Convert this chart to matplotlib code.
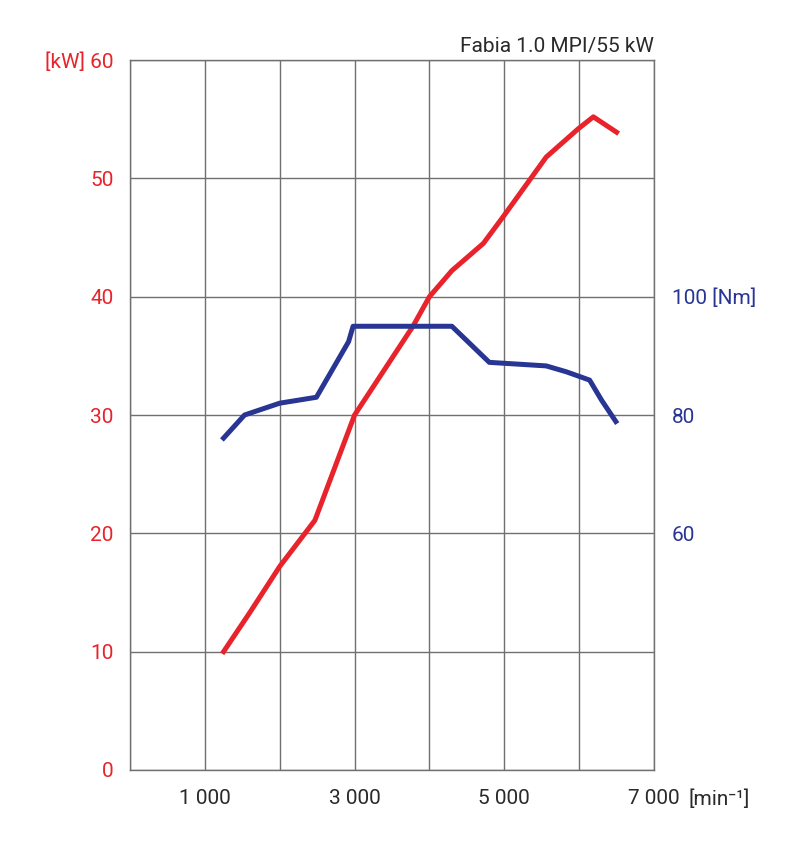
"""
Fabia 1.0 MPI/55 kW - power and torque curves
"""
import matplotlib
matplotlib.use("Agg")
import matplotlib.pyplot as plt

plt.rcParams['font.family'] = ['Roboto', 'DejaVu Sans']

# engine speed [min-1], power [kW]
rpm_power = [1250, 1600, 2000, 2470, 3000, 3250, 3780, 4000, 4300, 4720, 4990, 5560, 5990, 6190, 6500]
power_kw = [10.0, 13.3, 17.2, 21.1, 30.0, 32.4, 37.5, 40.0, 42.2, 44.5, 46.8, 51.8, 54.2, 55.2, 53.9]

# engine speed [min-1], torque [Nm]
rpm_torque = [1250, 1530, 2000, 2490, 2920, 2980, 4300, 4800, 5560, 5830, 6140, 6300, 6490]
torque_nm = [76.1, 80.0, 82.0, 83.0, 92.4, 95.0, 95.0, 88.9, 88.3, 87.3, 85.9, 82.5, 78.9]

kw_ticks = [0, 10, 20, 30, 40, 50, 60]
kw_labels = ['0', '10', '20', '30', '40', '50', '[kW] 60']
nm_ticks = [60, 80, 100]
nm_labels = ['60', '80', '100 [Nm]']
rpm_ticks = [1000, 3000, 5000, 7000]
rpm_labels = ['1 000', '3 000', '5 000', '7 000']

red = '#e8232b'
blue = '#283593'
grey = '#2a2a2a'
grid_c = '#707070'
fs = 15

fig = plt.figure(figsize=(8, 8.48), dpi=100)
ax = fig.add_axes([0.1625, 0.092, 0.655, 0.8372])

ax.set_xlim(0, 7000)
ax.set_ylim(0, 60)
ax.set_xticks(range(0, 7001, 1000), minor=True)
ax.set_yticks(kw_ticks)
ax.set_yticklabels(kw_labels, color=red, fontsize=fs)
ax.set_xticks(rpm_ticks)
ax.set_xticklabels(rpm_labels, color=grey, fontsize=fs)
ax.grid(True, which='both', axis='x', color=grid_c, lw=1)
ax.grid(True, axis='y', color=grid_c, lw=1)
ax.tick_params(which='both', length=0)
ax.tick_params(axis='y', pad=12)
ax.tick_params(axis='x', pad=14)
for s in ax.spines.values():
    s.set_color(grid_c)
    s.set_linewidth(1)

ax.plot(rpm_power, power_kw, color=red, lw=3.6, solid_joinstyle='round', zorder=3)

# torque on a second scale: 0..60 kW <-> 20..140 Nm
ax2 = ax.twinx()
ax2.set_ylim(20, 140)
ax2.set_yticks(nm_ticks)
ax2.set_yticklabels(nm_labels, color=blue, fontsize=fs)
ax2.tick_params(length=0, pad=13)
for s in ax2.spines.values():
    s.set_visible(False)
ax2.plot(rpm_torque, torque_nm, color=blue, lw=3.6, solid_joinstyle='round', zorder=3)

ax.text(7000, 60.3, 'Fabia 1.0 MPI/55 kW', ha='right', va='bottom', color=grey, fontsize=fs)
ax.annotate('[min⁻¹]', xy=(7000, 0), xytext=(25, -14), textcoords='offset points',
            ha='left', va='top', color=grey, fontsize=fs)

plt.savefig('out.png', dpi=100)
